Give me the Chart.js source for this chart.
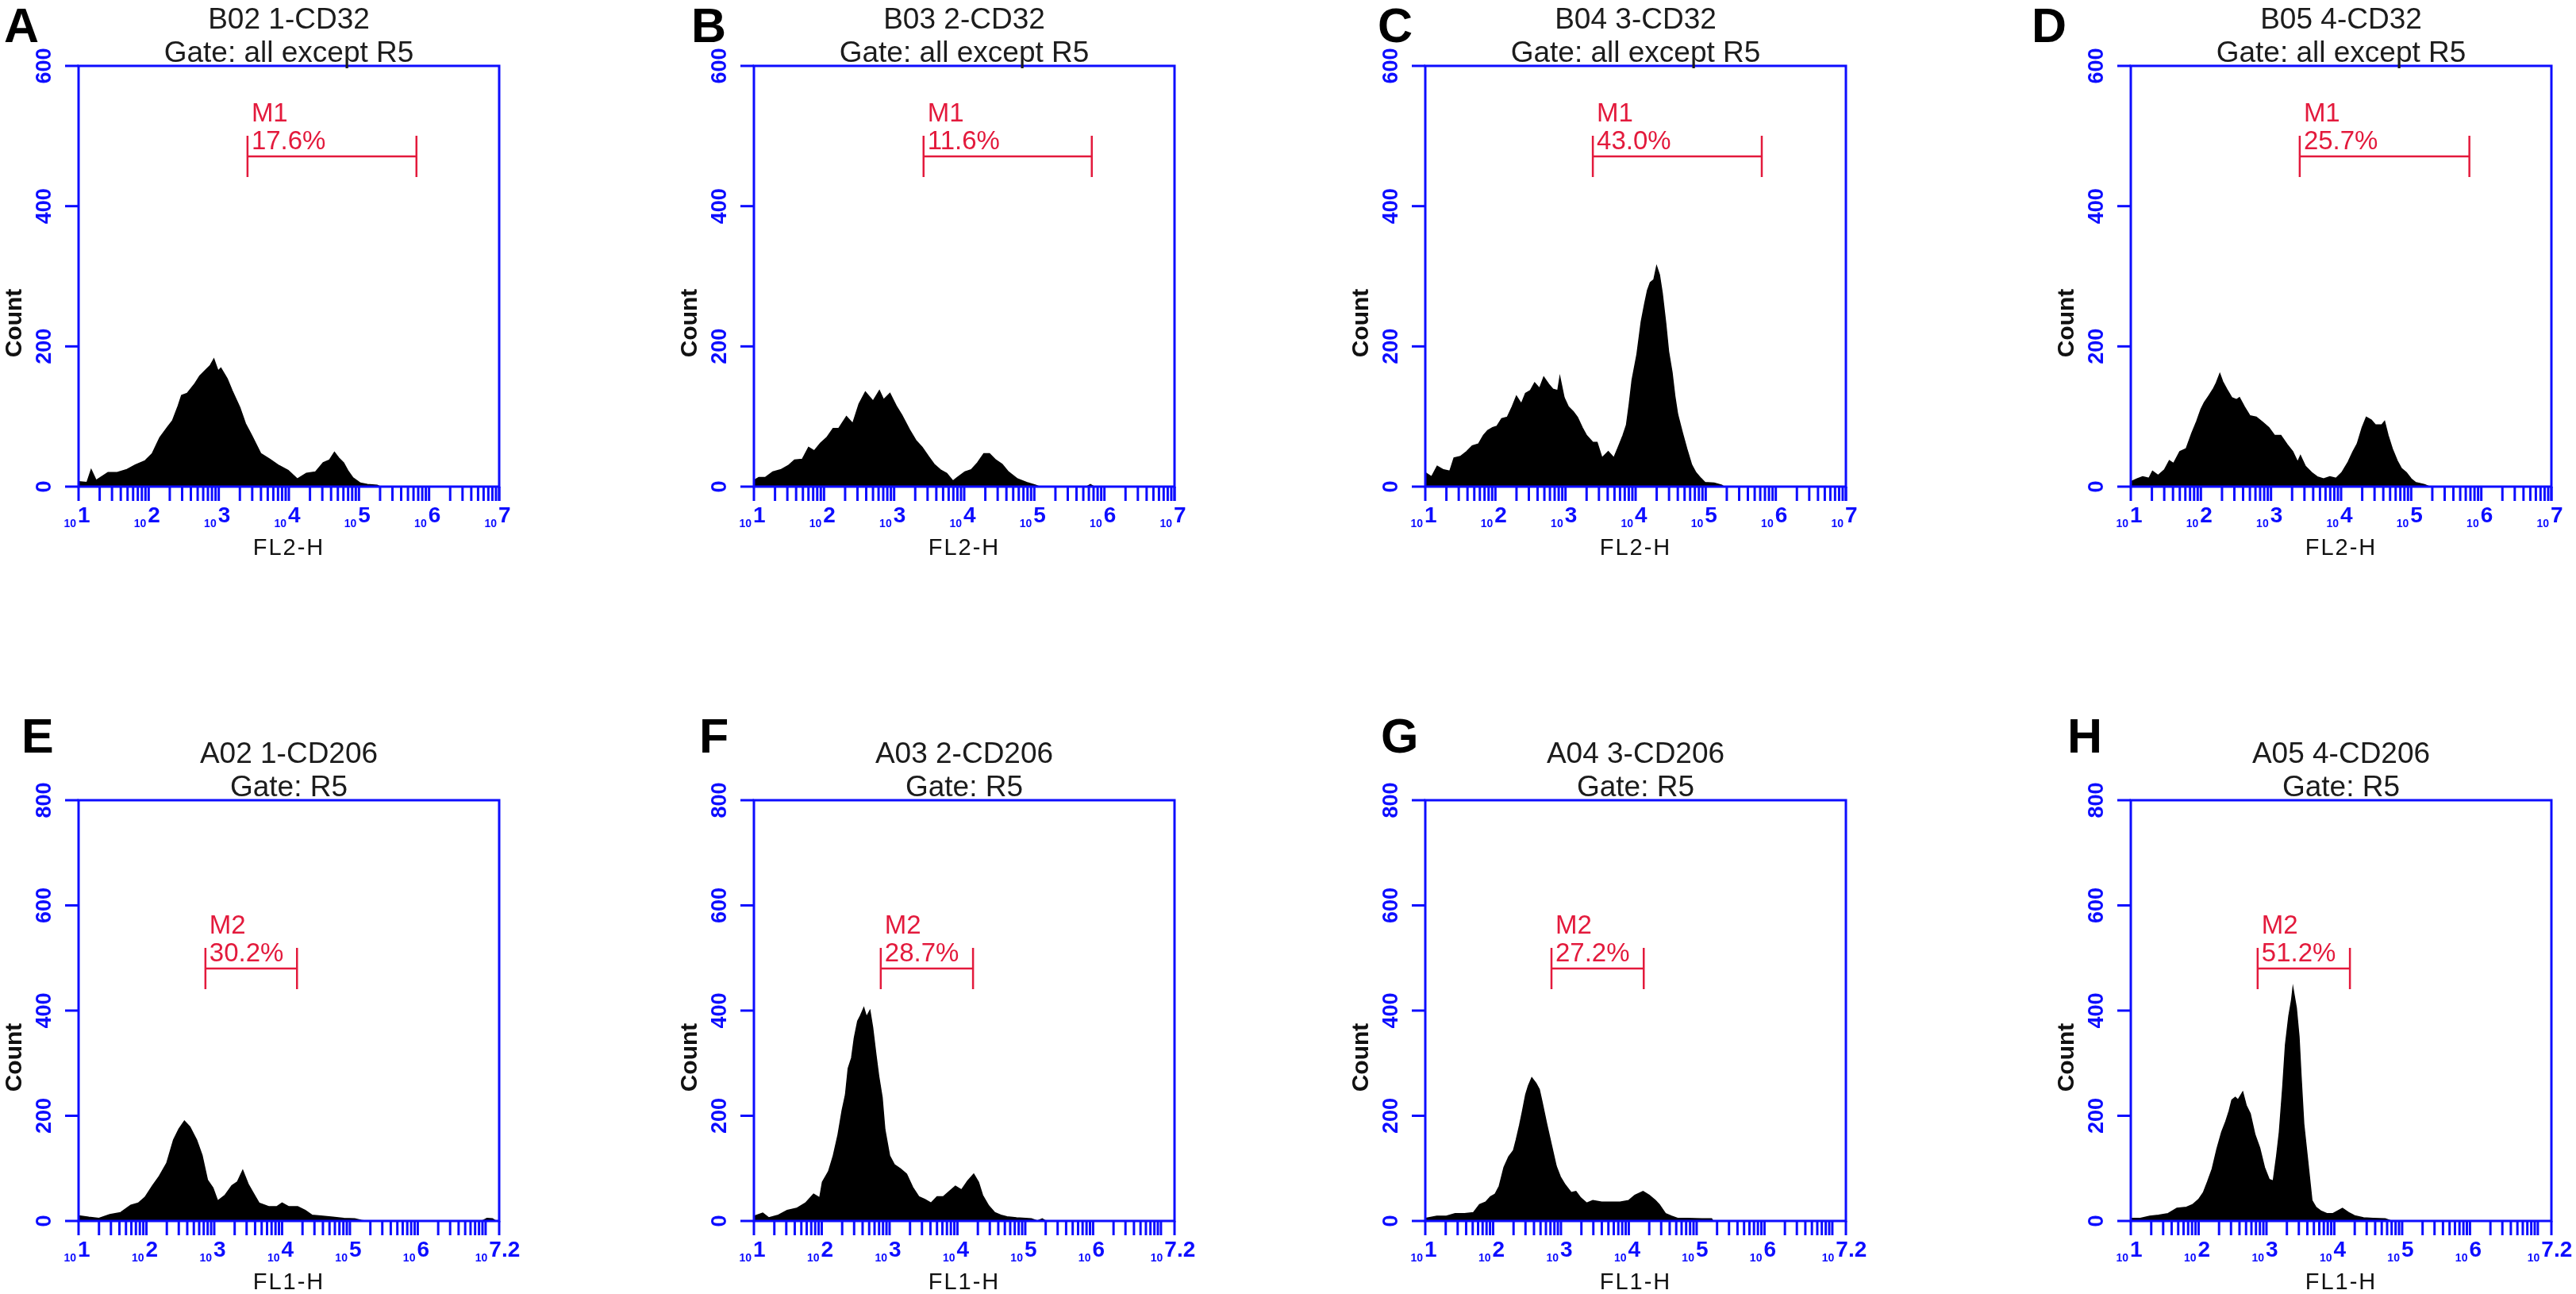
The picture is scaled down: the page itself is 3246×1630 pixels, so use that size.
<!DOCTYPE html>
<html>
<head>
<meta charset="utf-8">
<script src="https://cdn.jsdelivr.net/npm/chart.js@4.4.1/dist/chart.umd.min.js"></script>
<style>
    html, body { margin: 0; padding: 0; background: #fff; overflow: hidden; }
    body { width: 3246px; height: 1630px; position: relative; }
    canvas { position: absolute; }
</style>
</head>
<body>
<script>
// Histogram values: log10(FL) positions and counts
const aLog = [1.00,1.12,1.18,1.25,1.31,1.42,1.55,1.68,1.81,1.95,2.05,2.16,2.27,2.34,2.42,2.47,2.55,2.66,2.73,2.82,2.88,2.93,2.99,3.03,3.12,3.19,3.30,3.38,3.47,3.60,3.73,3.86,3.99,4.12,4.25,4.38,4.49,4.58,4.65,4.71,4.78,4.84,4.91,5.02,5.12,5.26,5.30,7.00];
const aCount = [7,6,24,9,13,20,20,24,31,37,47,70,85,94,115,130,133,147,158,167,173,182,165,169,154,137,113,90,73,47,39,30,23,11,19,21,34,38,49,41,34,23,13,5,3,2,0,0];

const bLog = [1.00,1.07,1.16,1.27,1.38,1.49,1.58,1.69,1.78,1.86,1.95,2.04,2.13,2.21,2.32,2.41,2.50,2.59,2.70,2.79,2.85,2.94,3.03,3.11,3.22,3.31,3.40,3.49,3.57,3.66,3.75,3.84,3.90,4.01,4.10,4.19,4.28,4.36,4.45,4.54,4.63,4.76,4.89,5.02,5.07,5.75,5.80,5.85,7.00];
const bCount = [9,13,13,21,24,30,38,39,56,51,62,70,83,83,100,90,118,135,122,137,124,133,115,102,81,66,56,43,32,24,19,8,13,21,24,34,47,47,38,32,21,11,6,2,0,0,3,0,0];

const cLog = [1.00,1.09,1.17,1.26,1.35,1.41,1.50,1.59,1.67,1.76,1.83,1.89,1.96,2.02,2.09,2.17,2.24,2.30,2.37,2.43,2.50,2.56,2.63,2.69,2.76,2.82,2.89,2.92,2.98,3.04,3.11,3.17,3.24,3.30,3.39,3.45,3.52,3.61,3.69,3.76,3.82,3.87,3.91,3.95,4.02,4.08,4.13,4.17,4.21,4.26,4.30,4.34,4.38,4.43,4.47,4.52,4.56,4.60,4.67,4.73,4.80,4.86,4.93,4.99,5.12,5.23,5.26,7.00];
const cCount = [20,14,29,24,22,41,43,50,58,61,73,80,84,86,97,99,114,129,118,133,137,148,140,156,146,139,137,156,127,114,107,99,84,73,63,63,41,50,41,58,73,88,118,152,189,235,261,280,291,295,314,302,276,233,193,163,129,103,76,54,31,20,12,6,5,2,0,0];

const dLog = [1.00,1.09,1.17,1.26,1.31,1.39,1.48,1.55,1.61,1.70,1.79,1.83,1.87,1.94,2.00,2.05,2.11,2.18,2.22,2.27,2.31,2.38,2.44,2.51,2.55,2.62,2.70,2.79,2.88,2.97,3.05,3.14,3.23,3.31,3.38,3.42,3.49,3.58,3.66,3.75,3.84,3.93,4.01,4.10,4.17,4.23,4.30,4.36,4.43,4.49,4.58,4.62,4.67,4.73,4.80,4.86,4.93,5.00,5.06,5.19,5.26,7.00];
const dCount = [7,11,14,12,22,16,24,37,33,50,54,65,76,93,110,120,129,140,148,161,150,137,127,124,127,114,101,99,92,84,73,73,60,50,35,44,29,20,14,11,14,12,20,35,50,61,84,99,95,88,88,93,73,54,37,26,20,11,6,3,0,0];

const eLog = [1.00,1.15,1.30,1.46,1.62,1.77,1.88,1.98,2.09,2.19,2.30,2.40,2.48,2.56,2.64,2.74,2.82,2.90,2.98,3.05,3.16,3.26,3.34,3.42,3.50,3.58,3.66,3.81,3.92,4.00,4.10,4.23,4.34,4.44,4.60,4.75,4.91,5.07,5.17,5.22,6.95,7.02,7.10,7.15,7.20];
const eCount = [10,7,5,12,16,30,34,45,67,85,110,154,175,190,179,154,125,78,63,38,49,67,74,96,70,52,34,27,27,34,27,27,20,11,9,7,5,4,1,0,0,5,4,0,0];

const fLog = [1.00,1.13,1.22,1.36,1.49,1.63,1.76,1.88,1.97,2.01,2.10,2.17,2.24,2.30,2.35,2.39,2.44,2.48,2.53,2.57,2.62,2.66,2.71,2.75,2.80,2.84,2.89,2.93,3.00,3.07,3.16,3.25,3.34,3.43,3.52,3.61,3.70,3.79,3.88,3.97,4.06,4.15,4.24,4.31,4.37,4.46,4.55,4.64,4.73,4.87,5.09,5.18,5.25,5.30,7.20];
const fCount = [9,15,6,11,20,24,34,51,44,74,94,124,164,210,240,290,310,348,380,390,405,388,400,368,315,275,235,174,124,107,99,89,64,46,41,34,46,46,56,66,59,76,89,74,49,29,16,11,8,6,4,0,4,0,0];

const gLog = [1.00,1.17,1.31,1.44,1.58,1.71,1.80,1.89,1.96,2.03,2.09,2.16,2.23,2.30,2.34,2.39,2.43,2.48,2.52,2.57,2.63,2.68,2.72,2.79,2.86,2.93,2.99,3.06,3.15,3.22,3.29,3.38,3.47,3.60,3.74,3.87,4.00,4.09,4.21,4.30,4.39,4.45,4.54,4.63,4.72,4.86,5.08,5.22,5.24,7.20];
const gCount = [5,9,9,14,14,16,31,36,46,51,66,102,122,134,154,182,207,240,257,272,262,250,227,184,144,104,84,69,54,56,44,34,39,36,36,36,39,49,56,49,39,31,14,9,5,5,4,4,0,0];

const hLog = [1.00,1.14,1.28,1.41,1.55,1.68,1.82,1.91,2.00,2.07,2.13,2.20,2.27,2.34,2.40,2.45,2.49,2.54,2.58,2.65,2.70,2.76,2.83,2.90,2.97,3.04,3.10,3.15,3.19,3.24,3.28,3.33,3.37,3.39,3.44,3.48,3.51,3.55,3.60,3.67,3.73,3.80,3.89,3.98,4.12,4.21,4.30,4.43,4.57,4.75,4.84,7.20];
const hCount = [5,5,9,11,14,24,26,31,41,54,74,99,137,169,189,209,230,235,230,245,220,204,164,139,102,79,76,124,169,255,335,390,420,443,405,350,275,184,124,39,26,19,14,14,24,16,10,6,5,4,0,0];

// Text and axis labels
const letters = ['A', 'B', 'C', 'D', 'E', 'F', 'G', 'H'];
const sampleNames = ['B02 1-CD32', 'B03 2-CD32', 'B04 3-CD32', 'B05 4-CD32',
                     'A02 1-CD206', 'A03 2-CD206', 'A04 3-CD206', 'A05 4-CD206'];
const gateNames = ['Gate: all except R5', 'Gate: all except R5', 'Gate: all except R5', 'Gate: all except R5',
                   'Gate: R5', 'Gate: R5', 'Gate: R5', 'Gate: R5'];
const markerNames = ['M1', 'M1', 'M1', 'M1', 'M2', 'M2', 'M2', 'M2'];
const markerPercents = ['17.6%', '11.6%', '43.0%', '25.7%', '30.2%', '28.7%', '27.2%', '51.2%'];
const markerFrom = [3.41, 3.42, 3.39, 3.41, 2.87, 2.87, 2.86, 2.87];
const markerTo = [5.82, 5.82, 5.80, 5.83, 4.22, 4.23, 4.22, 4.23];
const topYTicks = [0, 200, 400, 600];
const bottomYTicks = [0, 200, 400, 600, 800];
const topExponents = ['1', '2', '3', '4', '5', '6', '7'];
const bottomExponents = ['1', '2', '3', '4', '5', '6', '7.2'];
const topAxisTitle = 'FL2-H';
const bottomAxisTitle = 'FL1-H';

const histLogs = [aLog, bLog, cLog, dLog, eLog, fLog, gLog, hLog];
const histCounts = [aCount, bCount, cCount, dCount, eCount, fCount, gCount, hCount];

// Layout (page pixels)
const boxLefts = [99, 950, 1796, 2685];
const letterLefts = [5, 871, 1736, 2560, 27, 881, 1740, 2605];
const BOX = 530;
const PAD_L = 170, PAD_R = 45;
const rows = [
    { top: 0, height: 720, boxTop: 83, yMax: 600, ticks: topYTicks, exps: topExponents, title: topAxisTitle, xMaxExp: 7, markerLevel: 471, letterBase: -30 },
    { top: 880, height: 750, boxTop: 128, yMax: 800, ticks: bottomYTicks, exps: bottomExponents, title: bottomAxisTitle, xMaxExp: 7.2, markerLevel: 480, letterBase: -60 }
];

const FONT = '"Liberation Sans", Arial, sans-serif';
const BLUE = '#0d0dff';
const RED = '#e31a3c';

function drawRotated(ctx, text, x, y, font, color) {
    ctx.save();
    ctx.translate(x, y);
    ctx.rotate(-Math.PI / 2);
    ctx.font = font;
    ctx.fillStyle = color;
    ctx.textAlign = 'center';
    ctx.textBaseline = 'middle';
    ctx.fillText(text, 0, 0);
    ctx.restore();
}

// Draws the frame, ticks, labels, marker and titles on top of the histogram
const flowPlugin = {
    id: 'flowPanel',
    afterDraw(chart, args, opts) {
        const { ctx, chartArea: a, scales: { x, y } } = chart;
        const p = opts.panel;
        const row = p.row;
        ctx.save();

        // frame
        ctx.strokeStyle = BLUE;
        ctx.lineWidth = 3;
        ctx.strokeRect(a.left, a.top, a.right - a.left, a.bottom - a.top);

        // y ticks and rotated labels
        row.ticks.forEach(v => {
            const py = y.getPixelForValue(v);
            ctx.beginPath();
            ctx.moveTo(a.left - 17, py);
            ctx.lineTo(a.left, py);
            ctx.stroke();
            drawRotated(ctx, String(v), a.left - 42, py, 'bold 27px ' + FONT, BLUE);
        });

        // x ticks: 1..9 x 10^k under the axis
        ctx.lineWidth = 3;
        const xMax = Math.pow(10, row.xMaxExp);
        const tickAt = v => {
            const px = x.getPixelForValue(v);
            ctx.beginPath();
            ctx.moveTo(px, a.bottom);
            ctx.lineTo(px, a.bottom + 18);
            ctx.stroke();
        };
        for (let k = 1; k <= 7; k++) {
            for (let m = 1; m <= 9; m++) {
                const v = m * Math.pow(10, k);
                if (v <= xMax * 1.0001) tickAt(v);
            }
        }
        tickAt(xMax);

        // decade labels: small "10" and a large exponent
        ctx.fillStyle = BLUE;
        ctx.textBaseline = 'alphabetic';
        row.exps.forEach(e => {
            const px = x.getPixelForValue(Math.pow(10, parseFloat(e)));
            ctx.font = 'bold 14px ' + FONT;
            const w10 = ctx.measureText('10').width;
            ctx.font = 'bold 28px ' + FONT;
            const wExp = ctx.measureText(e).width;
            const start = px - (w10 + wExp) / 2 - 3;
            ctx.font = 'bold 14px ' + FONT;
            ctx.textAlign = 'left';
            ctx.fillText('10', start, a.bottom + 51);
            ctx.font = 'bold 28px ' + FONT;
            ctx.fillText(e, start + w10 + 2, a.bottom + 45);
        });

        // marker bar
        const xl = x.getPixelForValue(Math.pow(10, p.from));
        const xr = x.getPixelForValue(Math.pow(10, p.to));
        const by = y.getPixelForValue(row.markerLevel);
        ctx.strokeStyle = RED;
        ctx.lineWidth = 2.5;
        ctx.beginPath();
        ctx.moveTo(xl, by - 26); ctx.lineTo(xl, by + 26);
        ctx.moveTo(xr, by - 26); ctx.lineTo(xr, by + 26);
        ctx.moveTo(xl, by); ctx.lineTo(xr, by);
        ctx.stroke();
        ctx.fillStyle = RED;
        ctx.font = '33px ' + FONT;
        ctx.textAlign = 'left';
        ctx.fillText(p.name, xl + 5, by - 44);
        ctx.fillText(p.pct, xl + 5, by - 9);

        // titles
        const cx = (a.left + a.right) / 2;
        ctx.fillStyle = '#1c1c1c';
        ctx.font = '37px ' + FONT;
        ctx.textAlign = 'center';
        ctx.fillText(p.sample, cx, a.top - 47);
        ctx.fillText(p.gate, cx, a.top - 5);

        // axis titles
        drawRotated(ctx, 'Count', a.left - 80, a.top + 324, 'bold 30px ' + FONT, '#111');
        ctx.fillStyle = '#111';
        ctx.font = '29px ' + FONT;
        ctx.letterSpacing = '2px';
        ctx.fillText(row.title, cx, a.bottom + 86);
        ctx.letterSpacing = '0px';

        // panel letter
        ctx.fillStyle = '#000';
        ctx.font = 'bold 61px ' + FONT;
        ctx.textAlign = 'left';
        ctx.fillText(p.letter, p.letterX, a.top + row.letterBase);

        ctx.restore();
    }
};

function makePanel(i) {
    const row = rows[i < 4 ? 0 : 1];
    const boxLeft = boxLefts[i % 4];
    const canvasLeft = boxLeft - PAD_L;
    const width = PAD_L + BOX + PAD_R;

    const canvas = document.createElement('canvas');
    canvas.width = width;
    canvas.height = row.height;
    canvas.style.left = canvasLeft + 'px';
    canvas.style.top = row.top + 'px';
    canvas.style.width = width + 'px';
    canvas.style.height = row.height + 'px';
    document.body.appendChild(canvas);

    const points = histLogs[i].map((lg, j) => ({ x: Math.pow(10, lg), y: histCounts[i][j] }));

    new Chart(canvas.getContext('2d'), {
        type: 'line',
        data: {
            datasets: [{
                data: points,
                borderColor: '#000',
                backgroundColor: '#000',
                borderWidth: 1.5,
                pointRadius: 0,
                tension: 0,
                fill: 'origin'
            }]
        },
        options: {
            responsive: false,
            animation: false,
            devicePixelRatio: 1,
            layout: {
                padding: { left: PAD_L, right: PAD_R, top: row.boxTop, bottom: row.height - row.boxTop - BOX }
            },
            plugins: {
                legend: { display: false },
                tooltip: { enabled: false },
                flowPanel: {
                    panel: {
                        row: row,
                        letter: letters[i],
                        letterX: letterLefts[i] - canvasLeft,
                        sample: sampleNames[i],
                        gate: gateNames[i],
                        name: markerNames[i],
                        pct: markerPercents[i],
                        from: markerFrom[i],
                        to: markerTo[i]
                    }
                }
            },
            scales: {
                x: { type: 'logarithmic', min: 10, max: Math.pow(10, row.xMaxExp), display: false },
                y: { type: 'linear', min: 0, max: row.yMax, display: false }
            }
        },
        plugins: [flowPlugin]
    });
}

for (let i = 0; i < 8; i++) makePanel(i);
</script>
</body>
</html>
